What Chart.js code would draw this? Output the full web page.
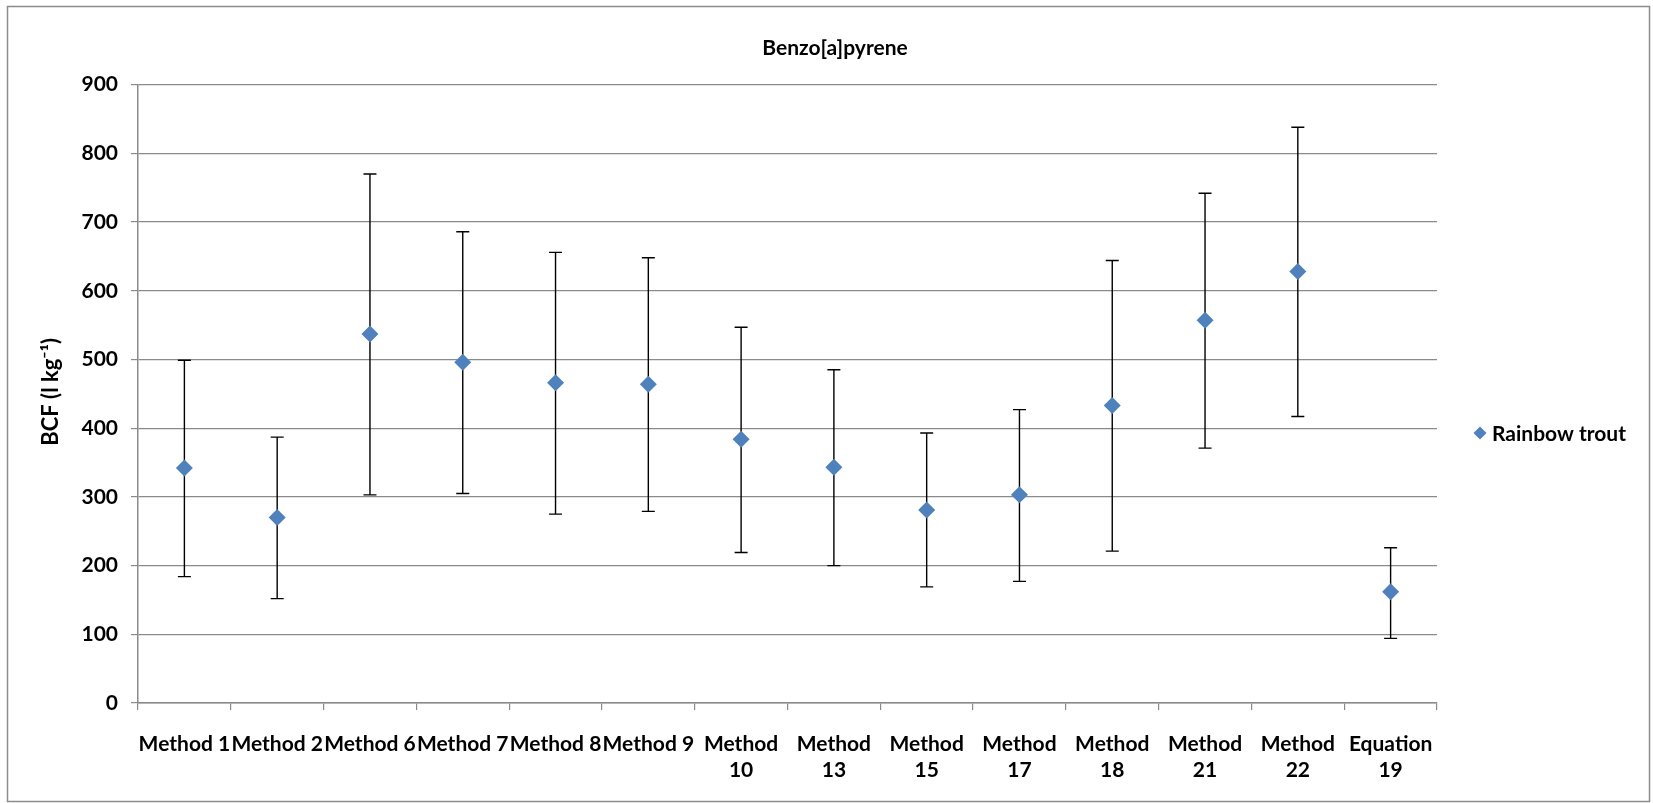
<!DOCTYPE html>
<html>
<head>
<meta charset="utf-8">
<title>Benzo[a]pyrene BCF</title>
<script src="https://cdn.jsdelivr.net/npm/chart.js@4.4.1/dist/chart.umd.min.js"></script>
<style>
  html, body { margin: 0; padding: 0; background: #ffffff; }
  #wrap { width: 1653px; height: 803px; position: relative; }
</style>
</head>
<body>
<div id="wrap"><canvas id="bcf"></canvas></div>
<script>
// Methods compared for rainbow trout
const categories = [
  'Method 1', 'Method 2', 'Method 6', 'Method 7', 'Method 8', 'Method 9',
  ['Method', '10'], ['Method', '13'], ['Method', '15'], ['Method', '17'],
  ['Method', '18'], ['Method', '21'], ['Method', '22'], ['Equation', '19']
];
// Bioconcentration factor (l kg-1): central estimate and error-bar limits
const bcfMean = [342, 270, 537, 496, 466, 464, 384, 343, 281, 303, 433, 557, 628, 162];
const bcfLow  = [184, 152, 303, 305, 275, 279, 219, 200, 169, 177, 221, 371, 417, 94];
const bcfHigh = [499, 387, 770, 686, 656, 648, 547, 485, 393, 427, 644, 742, 838, 226];
const yTicks = [0, 100, 200, 300, 400, 500, 600, 700, 800, 900];
const chartTitle = 'Benzo[a]pyrene';
const yAxisTitle = 'BCF (l kg⁻¹)';

const FONT = 'Lato, "Open Sans", sans-serif';
const MARKER = '#4F81BD';
const GRID = '#8a8a8a';

// Vertical error bars with caps, drawn under the markers
const errorBars = {
  id: 'errorBars',
  beforeDatasetsDraw(chart) {
    const { ctx, scales: { x, y } } = chart;
    ctx.save();
    ctx.strokeStyle = '#000000';
    ctx.lineWidth = 1.4;
    const cap = 6.5;
    bcfMean.forEach((_, i) => {
      const px = x.getPixelForValue(i);
      const yl = y.getPixelForValue(bcfLow[i]);
      const yh = y.getPixelForValue(bcfHigh[i]);
      ctx.beginPath();
      ctx.moveTo(px, yh); ctx.lineTo(px, yl);
      ctx.moveTo(px - cap, yh); ctx.lineTo(px + cap, yh);
      ctx.moveTo(px - cap, yl); ctx.lineTo(px + cap, yl);
      ctx.stroke();
    });
    ctx.restore();
  }
};

// Outer frame, heading, value-axis title and the series key
const frameAndKey = {
  id: 'frameAndKey',
  beforeDraw(chart) {
    const { ctx } = chart;
    ctx.save();
    ctx.fillStyle = '#ffffff';
    ctx.fillRect(0, 0, chart.width, chart.height);
    ctx.strokeStyle = '#8c8c8c';
    ctx.lineWidth = 1.5;
    ctx.strokeRect(7.5, 6.5, 1642, 795);
    ctx.restore();
  },
  afterDraw(chart) {
    const { ctx, chartArea } = chart;
    const ds = chart.data.datasets[0];
    ctx.save();
    // heading
    ctx.fillStyle = '#000000';
    ctx.font = 'bold 21px ' + FONT;
    ctx.textAlign = 'center';
    ctx.textBaseline = 'middle';
    ctx.fillText(chartTitle, 835, 48.5);
    // value-axis title, rotated
    ctx.save();
    ctx.translate(51, (chartArea.top + chartArea.bottom) / 2 - 2);
    ctx.rotate(-Math.PI / 2);
    ctx.font = 'bold 22px ' + FONT;
    ctx.fillText(yAxisTitle, 0, 0);
    ctx.restore();
    // series key
    const cx = 1480, cy = 433, r = 6.5;
    ctx.fillStyle = ds.backgroundColor;
    ctx.beginPath();
    ctx.moveTo(cx, cy - r); ctx.lineTo(cx + r, cy); ctx.lineTo(cx, cy + r); ctx.lineTo(cx - r, cy);
    ctx.closePath();
    ctx.fill();
    ctx.fillStyle = '#000000';
    ctx.font = 'bold 21px ' + FONT;
    ctx.textAlign = 'left';
    ctx.fillText(ds.label, 1492, cy + 1);
    ctx.restore();
  }
};

new Chart(document.getElementById('bcf'), {
  type: 'line',
  data: {
    labels: categories,
    datasets: [{
      label: 'Rainbow trout',
      data: bcfMean,
      showLine: false,
      pointStyle: 'rectRot',
      pointRadius: 8.5,
      pointHoverRadius: 8.5,
      backgroundColor: MARKER,
      borderColor: MARKER,
      pointBorderWidth: 0
    }]
  },
  plugins: [frameAndKey, errorBars],
  options: {
    responsive: true,
    maintainAspectRatio: false,
    animation: false,
    events: [],
    layout: { padding: { left: 10, right: 216, top: 84.7, bottom: 0 } },
    plugins: {
      legend: { display: false },
      tooltip: { enabled: false },
      title: { display: false }
    },
    scales: {
      x: {
        type: 'category',
        offset: true,
        grid: {
          offset: true,
          drawOnChartArea: false,
          drawTicks: true,
          tickLength: 7,
          color: GRID,
          lineWidth: 1.2
        },
        border: { display: true, color: GRID, width: 1.5 },
        ticks: {
          autoSkip: false,
          maxRotation: 0,
          minRotation: 0,
          padding: 21,
          color: '#000000',
          font: { family: FONT, size: 21, weight: 'bold', lineHeight: 1.25 }
        },
        afterFit(scale) { scale.height = 100; }
      },
      y: {
        min: 0,
        max: 900,
        afterBuildTicks(scale) { scale.ticks = yTicks.map(v => ({ value: v })); },
        grid: {
          color: GRID,
          lineWidth: 1.2,
          drawTicks: true,
          tickLength: 7
        },
        border: { display: true, color: GRID, width: 1.5 },
        ticks: {
          padding: 13,
          color: '#000000',
          font: { family: FONT, size: 21, weight: 'bold' }
        },
        title: { display: false },
        afterFit(scale) { scale.width = 128; }
      }
    }
  }
});
</script>
</body>
</html>
